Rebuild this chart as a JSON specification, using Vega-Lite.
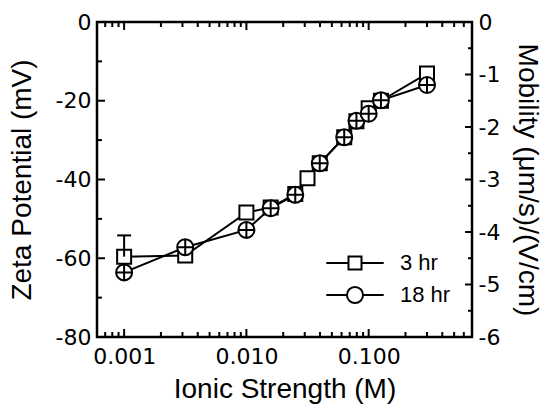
{
  "$schema": "https://vega.github.io/schema/vega-lite/v6.json",
  "width": 375,
  "height": 315,
  "autosize": {"type": "none"},
  "padding": {"left": 97, "top": 22, "right": 71, "bottom": 67},
  "config": {
    "font": "Liberation Sans",
    "view": {"stroke": "black", "strokeWidth": 2.5},
    "axis": {
      "domain": false,
      "grid": false,
      "ticks": false,
      "labelFont": "DejaVu Sans",
      "titleFont": "Liberation Sans",
      "labelFontSize": 22,
      "titleFontSize": 28,
      "titleFontWeight": "normal",
      "labelColor": "black",
      "titleColor": "black"
    },
    "legend": {"labelFont": "Liberation Sans", "labelColor": "black"}
  },
  "datasets": {
    "xmajor": [{"v": 0.001}, {"v": 0.01}, {"v": 0.1}],
    "xminor": [{"v": 0.0006}, {"v": 0.0007}, {"v": 0.0008}, {"v": 0.0009}, {"v": 0.002}, {"v": 0.003}, {"v": 0.004}, {"v": 0.005}, {"v": 0.006}, {"v": 0.007}, {"v": 0.008}, {"v": 0.009}, {"v": 0.02}, {"v": 0.03}, {"v": 0.04}, {"v": 0.05}, {"v": 0.06}, {"v": 0.07}, {"v": 0.08}, {"v": 0.09}, {"v": 0.2}, {"v": 0.3}, {"v": 0.4}, {"v": 0.5}, {"v": 0.6}],
    "ymajor": [{"v": -60}, {"v": -40}, {"v": -20}],
    "yminor": [{"v": -70}, {"v": -50}, {"v": -30}, {"v": -10}],
    "mmajor": [{"v": -5}, {"v": -4}, {"v": -3}, {"v": -2}, {"v": -1}],
    "mminor": [{"v": -5.5}, {"v": -4.5}, {"v": -3.5}, {"v": -2.5}, {"v": -1.5}, {"v": -0.5}]
  },
  "layer": [
    {
      "layer": [
        {
          "data": {"values": [
            {"series": "3 hr", "I": 0.001, "zeta": -59.6},
            {"series": "3 hr", "I": 0.00316, "zeta": -59.3},
            {"series": "3 hr", "I": 0.01, "zeta": -48.4},
            {"series": "3 hr", "I": 0.0158, "zeta": -47.1},
            {"series": "3 hr", "I": 0.0251, "zeta": -43.7},
            {"series": "3 hr", "I": 0.0316, "zeta": -39.7},
            {"series": "3 hr", "I": 0.0398, "zeta": -35.9},
            {"series": "3 hr", "I": 0.0631, "zeta": -29.3},
            {"series": "3 hr", "I": 0.0794, "zeta": -25.2},
            {"series": "3 hr", "I": 0.1, "zeta": -21.9},
            {"series": "3 hr", "I": 0.126, "zeta": -20.0},
            {"series": "3 hr", "I": 0.3, "zeta": -13.1},
            {"series": "18 hr", "I": 0.001, "zeta": -63.6},
            {"series": "18 hr", "I": 0.00316, "zeta": -57.2},
            {"series": "18 hr", "I": 0.01, "zeta": -52.8},
            {"series": "18 hr", "I": 0.0158, "zeta": -47.3},
            {"series": "18 hr", "I": 0.0251, "zeta": -43.9},
            {"series": "18 hr", "I": 0.0398, "zeta": -35.9},
            {"series": "18 hr", "I": 0.0631, "zeta": -29.3},
            {"series": "18 hr", "I": 0.0794, "zeta": -25.1},
            {"series": "18 hr", "I": 0.1, "zeta": -23.3},
            {"series": "18 hr", "I": 0.126, "zeta": -19.9},
            {"series": "18 hr", "I": 0.3, "zeta": -16.0}
          ]},
          "layer": [
            {
              "mark": {"type": "line", "color": "black", "strokeWidth": 2},
              "encoding": {"detail": {"field": "series"}}
            },
            {
              "mark": {"type": "point", "fill": "white", "stroke": "black", "strokeWidth": 2, "opacity": 1, "size": 256},
              "encoding": {
                "shape": {
                  "field": "series",
                  "type": "nominal",
                  "scale": {
                    "domain": ["3 hr", "18 hr"],
                    "range": [
                      "M-0.875,-0.875H0.875V0.875H-0.875Z",
                      "M-1,0A1,1,0,1,0,1,0A1,1,0,1,0,-1,0Z M-1,0H1 M0,-1V1"
                    ]
                  },
                  "legend": null
                }
              }
            }
          ]
        },
        {
          "data": {"values": [{"I": 0.001, "hi": -54.2, "lo": -59.6}]},
          "layer": [
            {
              "mark": {"type": "rule", "color": "black", "strokeWidth": 2},
              "encoding": {"y": {"field": "hi", "type": "quantitative"}, "y2": {"field": "lo"}}
            },
            {
              "mark": {"type": "point", "shape": "M-1,0H1", "size": 196, "stroke": "black", "strokeWidth": 2, "opacity": 1, "filled": false},
              "encoding": {"y": {"field": "hi", "type": "quantitative"}}
            }
          ]
        }
      ],
      "encoding": {
        "x": {
          "field": "I",
          "type": "quantitative",
          "scale": {"type": "log", "domain": [0.0006, 0.7], "nice": false},
          "axis": {
            "orient": "bottom",
            "title": "Ionic Strength (M)",
            "values": [0.001, 0.01, 0.1],
            "format": ".3f",
            "labelPadding": 9,
            "labelFlush": false,
            "labelOverlap": false,
            "titlePadding": 8
          }
        },
        "y": {
          "field": "zeta",
          "type": "quantitative",
          "scale": {"domain": [-80, 0], "nice": false, "zero": false},
          "axis": {
            "orient": "left",
            "title": "Zeta Potential (mV)",
            "values": [-80, -60, -40, -20, 0],
            "labelExpr": "(datum.value < 0 ? '-' : '') + abs(datum.value)",
            "labelPadding": 6,
            "labelOverlap": false,
            "titlePadding": 19
          }
        }
      }
    },
    {
      "data": {"values": [{}]},
      "mark": {"type": "rule", "opacity": 0},
      "encoding": {
        "y": {
          "datum": -3,
          "type": "quantitative",
          "scale": {"domain": [-6, 0], "nice": false, "zero": false},
          "axis": {
            "orient": "right",
            "title": "Mobility (μm/s)/(V/cm)",
            "titleAngle": 90,
            "values": [-6, -5, -4, -3, -2, -1, 0],
            "labelExpr": "(datum.value < 0 ? '-' : '') + abs(datum.value)",
            "labelPadding": 6,
            "labelOverlap": false,
            "titlePadding": 13
          }
        }
      }
    },
    {
      "data": {"name": "xmajor"},
      "mark": {"type": "point", "shape": "M0,0V-2", "size": 64, "stroke": "black", "strokeWidth": 2, "opacity": 1, "filled": false},
      "encoding": {
        "x": {"field": "v", "type": "quantitative", "scale": {"type": "log", "domain": [0.0006, 0.7], "nice": false}, "axis": null},
        "y": {"datum": -80, "type": "quantitative", "scale": {"domain": [-80, 0], "nice": false, "zero": false}, "axis": null}
      }
    },
    {
      "data": {"name": "xminor"},
      "mark": {"type": "point", "shape": "M0,0V-2", "size": 25, "stroke": "black", "strokeWidth": 2, "opacity": 1, "filled": false},
      "encoding": {
        "x": {"field": "v", "type": "quantitative", "scale": {"type": "log", "domain": [0.0006, 0.7], "nice": false}, "axis": null},
        "y": {"datum": -80, "type": "quantitative", "scale": {"domain": [-80, 0], "nice": false, "zero": false}, "axis": null}
      }
    },
    {
      "data": {"name": "xmajor"},
      "mark": {"type": "point", "shape": "M0,0V2", "size": 64, "stroke": "black", "strokeWidth": 2, "opacity": 1, "filled": false},
      "encoding": {
        "x": {"field": "v", "type": "quantitative", "scale": {"type": "log", "domain": [0.0006, 0.7], "nice": false}, "axis": null},
        "y": {"datum": 0, "type": "quantitative", "scale": {"domain": [-80, 0], "nice": false, "zero": false}, "axis": null}
      }
    },
    {
      "data": {"name": "xminor"},
      "mark": {"type": "point", "shape": "M0,0V2", "size": 25, "stroke": "black", "strokeWidth": 2, "opacity": 1, "filled": false},
      "encoding": {
        "x": {"field": "v", "type": "quantitative", "scale": {"type": "log", "domain": [0.0006, 0.7], "nice": false}, "axis": null},
        "y": {"datum": 0, "type": "quantitative", "scale": {"domain": [-80, 0], "nice": false, "zero": false}, "axis": null}
      }
    },
    {
      "data": {"name": "ymajor"},
      "mark": {"type": "point", "shape": "M0,0H2", "size": 64, "stroke": "black", "strokeWidth": 2, "opacity": 1, "filled": false},
      "encoding": {
        "x": {"datum": 0.0006, "type": "quantitative", "scale": {"type": "log", "domain": [0.0006, 0.7], "nice": false}, "axis": null},
        "y": {"field": "v", "type": "quantitative", "scale": {"domain": [-80, 0], "nice": false, "zero": false}, "axis": null}
      }
    },
    {
      "data": {"name": "yminor"},
      "mark": {"type": "point", "shape": "M0,0H2", "size": 25, "stroke": "black", "strokeWidth": 2, "opacity": 1, "filled": false},
      "encoding": {
        "x": {"datum": 0.0006, "type": "quantitative", "scale": {"type": "log", "domain": [0.0006, 0.7], "nice": false}, "axis": null},
        "y": {"field": "v", "type": "quantitative", "scale": {"domain": [-80, 0], "nice": false, "zero": false}, "axis": null}
      }
    },
    {
      "data": {"name": "mmajor"},
      "mark": {"type": "point", "shape": "M0,0H-2", "size": 49, "stroke": "black", "strokeWidth": 2, "opacity": 1, "filled": false},
      "encoding": {
        "x": {"datum": 0.7, "type": "quantitative", "scale": {"type": "log", "domain": [0.0006, 0.7], "nice": false}, "axis": null},
        "y": {"field": "v", "type": "quantitative", "scale": {"domain": [-6, 0], "nice": false, "zero": false}, "axis": null}
      }
    },
    {
      "data": {"name": "mminor"},
      "mark": {"type": "point", "shape": "M0,0H-2", "size": 16, "stroke": "black", "strokeWidth": 2, "opacity": 1, "filled": false},
      "encoding": {
        "x": {"datum": 0.7, "type": "quantitative", "scale": {"type": "log", "domain": [0.0006, 0.7], "nice": false}, "axis": null},
        "y": {"field": "v", "type": "quantitative", "scale": {"domain": [-6, 0], "nice": false, "zero": false}, "axis": null}
      }
    },
    {
      "data": {"values": [{"series": "3 hr"}, {"series": "18 hr"}]},
      "mark": {"type": "point", "opacity": 0},
      "encoding": {
        "shape": {
          "field": "series",
          "type": "nominal",
          "scale": {
            "domain": ["3 hr", "18 hr"],
            "range": [
              "M-4.1,0H-0.93 M0.93,0H4.1 M-0.93,-0.93H0.93V0.93H-0.93Z",
              "M-4.1,0H-1.15 M1.15,0H4.1 M-1.15,0A1.15,1.15,0,1,0,1.15,0A1.15,1.15,0,1,0,-1.15,0Z"
            ]
          },
          "legend": {
            "orient": "none",
            "legendX": 247,
            "legendY": 230,
            "title": null,
            "labelFontSize": 22,
            "labelOffset": 34,
            "symbolSize": 196,
            "symbolOpacity": 1,
            "symbolFillColor": "white",
            "symbolStrokeColor": "black",
            "symbolStrokeWidth": 2,
            "rowPadding": 8,
            "padding": 0
          }
        }
      }
    }
  ],
  "resolve": {"scale": {"x": "independent", "y": "independent", "shape": "independent"}}
}
